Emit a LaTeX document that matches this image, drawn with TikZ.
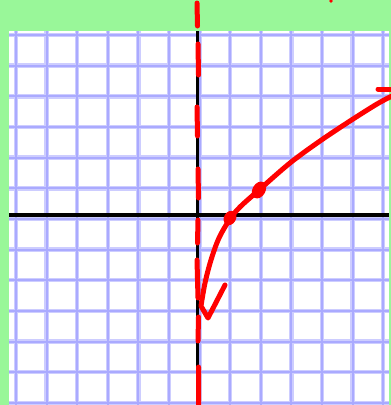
\documentclass[tikz,border=0pt]{standalone}
\definecolor{bggreen}{RGB}{153,247,153}
\definecolor{gridblueout}{RGB}{205,205,255}
\definecolor{gridbluein}{RGB}{170,170,255}
\definecolor{penred}{RGB}{255,0,0}
\tikzset{
  gridline/.style={line width=4.5pt, gridblueout},
  gridcore/.style={line width=2pt, gridbluein},
  axisline/.style={line width=3.5pt, black},
  redpen/.style={line width=5pt, penred, line cap=round, line join=round},
}
\begin{document}
\begin{tikzpicture}[x=1pt,y=-1pt]
\fill[bggreen] (0,0) rectangle (391,405);
\useasboundingbox (0,0) rectangle (391,405);
\fill[white] (9,31) rectangle (389,405);
\begin{scope}
\clip (9,31) rectangle (389,405);
\foreach \i in {0,...,12} {
  \pgfmathsetmacro\gx{16+30.6*\i}
  \pgfmathsetmacro\gy{35+30.65*\i}
  \draw[gridline] (\gx,31) -- (\gx,405);
  \draw[gridline] (9,\gy) -- (389,\gy);
}
\foreach \i in {0,...,12} {
  \pgfmathsetmacro\gx{16+30.6*\i}
  \pgfmathsetmacro\gy{35+30.65*\i}
  \draw[gridcore] (\gx,31) -- (\gx,405);
  \draw[gridcore] (9,\gy) -- (389,\gy);
}
\draw[axisline] (197.5,31) -- (197.5,405);
\draw[axisline] (9,215) -- (389,215);
\end{scope}
% dashed asymptote
\draw[redpen] (197,3) -- (197.5,26)
  (198,44) -- (198.5,75)
  (197,107) -- (197.5,136)
  (198,169) -- (198.5,198)
  (198,220) -- (197.5,243)
  (197,260) -- (198,298)
  (198.5,317) -- (198,341)
  (198.5,367) -- (198.5,405);
% curve
\draw[redpen] plot[smooth, tension=0.55] coordinates {(392,96) (377,104) (350,121) (320,141) (290,163) (259,190) (240,207) (230,219) (219,238) (211,260) (205,283) (201,306)}
  -- (208,318) -- (225,285);
\fill[penred, rotate around={60:(230,218)}] (230,218) ellipse (7.5 and 6);
\fill[penred, rotate around={60:(259,190)}] (259,190) ellipse (9 and 6.5);
\draw[redpen] (378,89) -- (391,89);
\fill[penred] (331,1) circle (1.8);
\end{tikzpicture}
\end{document}
